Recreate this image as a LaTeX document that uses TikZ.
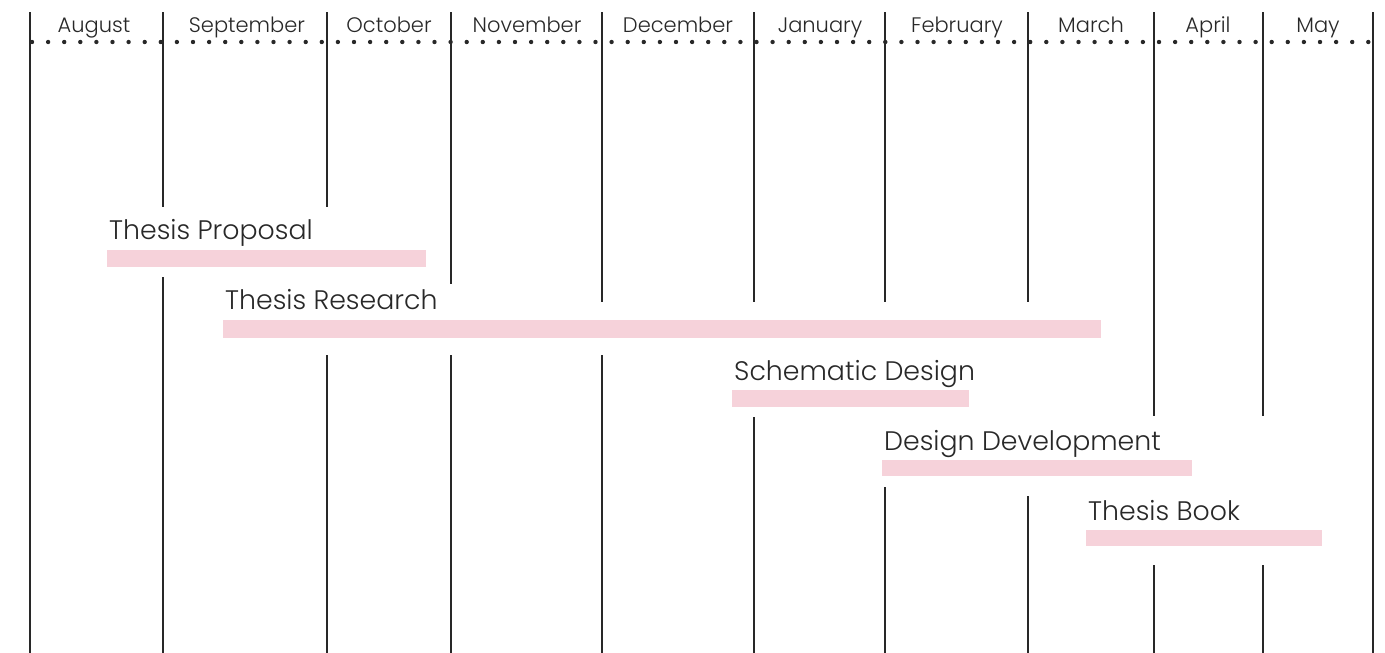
\documentclass[tikz,border=0pt]{standalone}
\usepackage{fontspec}
\setmainfont{Poppins Light}
\definecolor{barpink}{RGB}{246,210,218}
\definecolor{inkgray}{RGB}{40,40,40}
\tikzset{monthline/.style={draw=inkgray,line width=2.8pt},
  monthlabel/.style={font=\fontsize{21}{25}\selectfont,text=inkgray,anchor=base,inner sep=0pt},
  tasklabel/.style={font=\fontsize{26.8}{31}\selectfont,text=inkgray,anchor=base west,inner sep=0pt},
  taskbar/.style={fill=barpink,draw=none}}
\begin{document}
\begin{tikzpicture}[x=1pt,y=-1pt]
  \useasboundingbox (0,0) rectangle (1385,653);
  % month dividers, broken where the bars cross
  \draw[monthline] (30,12) -- (30,653);
  \draw[monthline] (163,12) -- (163,207) (163,277) -- (163,653);
  \draw[monthline] (327,12) -- (327,207) (327,355) -- (327,653);
  \draw[monthline] (451,12) -- (451,284) (451,355) -- (451,653);
  \draw[monthline] (602,12) -- (602,302) (602,355) -- (602,653);
  \draw[monthline] (754,12) -- (754,302) (754,417) -- (754,653);
  \draw[monthline] (885,12) -- (885,302) (885,487) -- (885,653);
  \draw[monthline] (1028,12) -- (1028,302) (1028,496) -- (1028,653);
  \draw[monthline] (1154,12) -- (1154,416) (1154,565) -- (1154,653);
  \draw[monthline] (1263,12) -- (1263,416) (1263,565) -- (1263,653);
  \draw[monthline] (1373,12) -- (1373,653);
  % dotted header line
  \coordinate (dotstart) at (32,42);
  \coordinate (dotend) at (1373,42);
  \draw[inkgray,line width=4.4pt,line cap=round,dash pattern=on 0pt off 16.1pt] (dotstart) -- (dotend);
  % months
  \node[monthlabel] (aug) at (94,32) {August};
  \node[monthlabel] (sep) at (247,32) {September};
  \node[monthlabel] (oct) at (389,32) {October};
  \node[monthlabel] (nov) at (527,32) {November};
  \node[monthlabel] (dec) at (678,32) {December};
  \node[monthlabel] (jan) at (820,32) {January};
  \node[monthlabel] (feb) at (957,32) {February};
  \node[monthlabel] (mar) at (1091,32) {March};
  \node[monthlabel] (apr) at (1208,32) {April};
  \node[monthlabel] (may) at (1318,32) {May};
  % tasks
  \fill[taskbar] (107,250) rectangle (426,267);
  \node[tasklabel] (proposal) at (109,239) {Thesis Proposal};
  \fill[taskbar] (223,320) rectangle (1101,338);
  \node[tasklabel] (research) at (225,309) {Thesis Research};
  \fill[taskbar] (732,390) rectangle (969,407);
  \node[tasklabel] (schematic) at (734,380) {Schematic Design};
  \fill[taskbar] (882,460) rectangle (1192,476);
  \node[tasklabel] (development) at (884,450) {Design Development};
  \fill[taskbar] (1086,530) rectangle (1322,546);
  \node[tasklabel] (book) at (1088,520) {Thesis Book};
\end{tikzpicture}
\end{document}
